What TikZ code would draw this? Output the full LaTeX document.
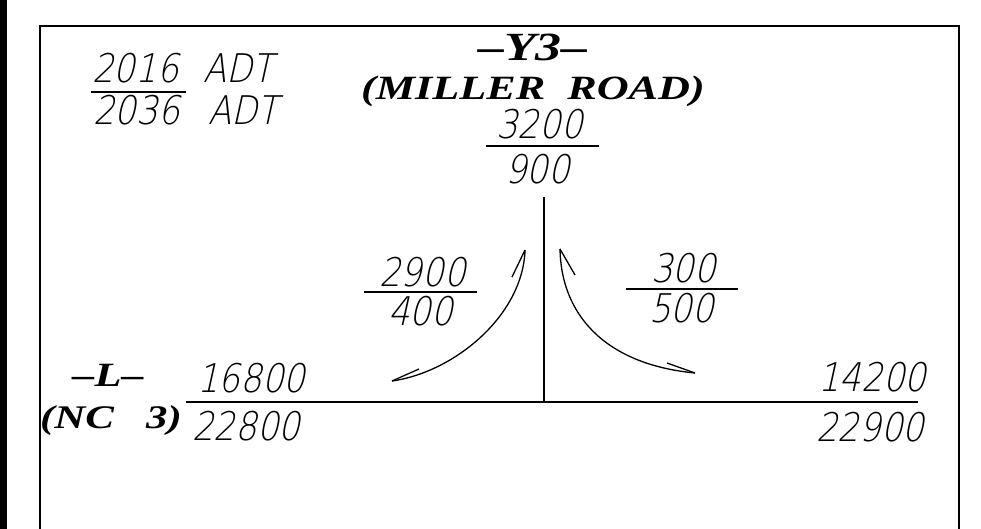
\documentclass[tikz,border=0pt]{standalone}
\usepackage{fontspec}
\usepackage{tikz}
\newfontfamily\roadfont[FakeStretch=1.3]{Liberation Serif}
\IfFontExistsTF{DejaVu Sans ExtraLight}
  {\newfontfamily\numfont[FakeSlant=0.22,FakeStretch=0.86]{DejaVu Sans ExtraLight}\def\numsize{39.5}}
  {\newcommand\numfont{\sffamily\slshape}\def\numsize{43}}

\begin{document}
\begin{tikzpicture}[x=1pt,y=-1pt,
    num/.style={inner sep=0pt,anchor=base west,font=\fontsize{\numsize}{\numsize}\selectfont\numfont},
    road/.style={inner sep=0pt,anchor=base,font=\fontsize{34}{34}\selectfont\roadfont\bfseries\itshape},
    rule/.style={line width=1.6pt},
    turn/.style={line width=1.3pt}]
    \useasboundingbox (0,0) rectangle (981,529);
    % sheet edge and frame
    \fill (0,0) rectangle (7,529);
    \draw [line width=1.5pt] (40,529)--(40,26)--(959,26)--(959,529);
    % legend
    \node[num] (yA) at (92,83) {2016};
    \node[num] (adtA) at (203,83) {ADT};
    \node[num] (yB) at (93,125) {2036};
    \node[num] (adtB) at (208,125) {ADT};
    \draw[rule] (91,92)--(186,92);
    % road names
    \node[road,font=\fontsize{40}{40}\selectfont\roadfont\bfseries\itshape] (y3) at (533,61) {–Y3–};
    \node[road] (miller) at (533,100) {(MILLER\ \ ROAD)};
    \node[road] (lname) at (108,386) {–L–};
    \node[road,font=\fontsize{33}{33}\selectfont\roadfont\bfseries\itshape] (nc) at (111,428) {(NC\ \ \ 3)};
    % road lines
    \coordinate (west) at (186,402);
    \coordinate (east) at (918,402);
    \coordinate (mid) at (544,402);
    \coordinate (north) at (544,197);
    \draw[rule] (west)--(east);
    \draw[rule] (mid)--(north);
    % volumes on -Y3-
    \node[num] (nIn) at (496,139) {3200};
    \node[num] (nOut) at (505,184) {900};
    \draw[rule] (486,146)--(599,146);
    % volumes on -L-
    \node[num] (wIn) at (197,392) {16800};
    \node[num] (wOut) at (192,440) {22800};
    \node[num] (eIn) at (818,391) {14200};
    \node[num] (eOut) at (816,441) {22900};
    % turning volumes
    \node[num] (ltA) at (379,286) {2900};
    \node[num] (ltB) at (388,325) {400};
    \draw[rule] (364,292)--(477,292);
    \node[num] (rtA) at (651,282) {300};
    \node[num] (rtB) at (649,322) {500};
    \draw[rule] (626,289)--(738,289);
    % turn arrows
    \coordinate (lt) at (525,250);
    \coordinate (lb) at (392,381);
    \coordinate (rt) at (560,249);
    \coordinate (rb) at (695,373);
    \draw[turn] (lb) .. controls (455,372) and (523,315) .. (lt);
    \draw[turn] (lt)--(512,277);
    \draw[turn] (lb)--(419,369);
    \draw[turn] (rt) .. controls (561,312) and (602,364) .. (rb);
    \draw[turn] (rt)--(575,275);
    \draw[turn] (rb)--(667,363);
\end{tikzpicture}
\end{document}
